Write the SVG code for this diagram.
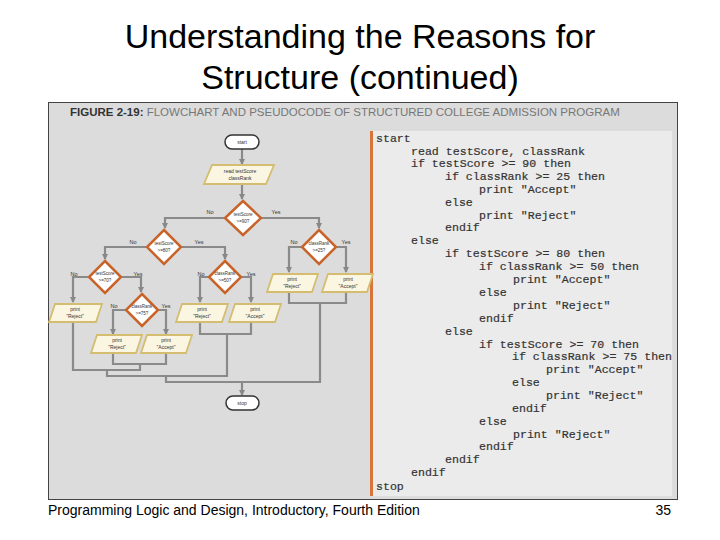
<svg xmlns="http://www.w3.org/2000/svg" width="720" height="540" viewBox="0 0 720 540">
<defs>
<marker id="ar" markerWidth="6" markerHeight="6" refX="5" refY="3" orient="auto" markerUnits="userSpaceOnUse" viewBox="0 0 6 6"><path d="M0,0 L6,3 L0,6 z" fill="#888"/></marker>
<style>
.t{font-family:"Liberation Sans",Arial,sans-serif;fill:#000}
.n{font-family:"Liberation Sans",Arial,sans-serif;font-size:5px;fill:#333;text-anchor:middle}
.dn{font-family:"Liberation Sans",Arial,sans-serif;font-size:4.5px;fill:#333;text-anchor:middle}
.lb{font-family:"Liberation Sans",Arial,sans-serif;font-size:5.5px;fill:#333;text-anchor:middle}
.d{fill:#fff;stroke:#c8642a;stroke-width:2.5}
.p{fill:#fbf6e2;stroke:#d4bd70;stroke-width:1.8}
.tm{fill:#fff;stroke:#333;stroke-width:1.5}
.c path{fill:none;stroke:#8a8a8a;stroke-width:2.2}
.code{font-family:"Liberation Mono","Courier New",monospace;font-size:11.6px;fill:#333;stroke:#333;stroke-width:0.2}
</style>
</defs>
<rect width="720" height="540" fill="#fff"/>
<text class="t" x="360" y="48" font-size="34" text-anchor="middle">Understanding the Reasons for</text>
<text class="t" x="360" y="89" font-size="34" text-anchor="middle">Structure (continued)</text>
<rect x="48.5" y="102.5" width="629" height="397" fill="#dcdcdc" stroke="#444" stroke-width="1"/>
<text x="70" y="116" font-family="Liberation Sans,Arial,sans-serif" font-size="11.5"><tspan font-weight="bold" fill="#333">FIGURE 2-19:</tspan><tspan fill="#777"> FLOWCHART AND PSEUDOCODE OF STRUCTURED COLLEGE ADMISSION PROGRAM</tspan></text>
<rect x="370" y="131" width="302" height="365" fill="#ebebeb"/>
<rect x="370" y="131" width="3" height="365" fill="#d9753a"/>
<g class="code">
<text x="376" y="142">start</text>
<text x="411" y="155">read testScore, classRank</text>
<text x="411" y="167">if testScore &gt;= 90 then</text>
<text x="445" y="180">if classRank &gt;= 25 then</text>
<text x="479" y="193">print "Accept"</text>
<text x="445" y="206">else</text>
<text x="479" y="219">print "Reject"</text>
<text x="445" y="231">endif</text>
<text x="411" y="244">else</text>
<text x="445" y="257">if testScore &gt;= 80 then</text>
<text x="479" y="270">if classRank &gt;= 50 then</text>
<text x="513" y="283">print "Accept"</text>
<text x="479" y="296">else</text>
<text x="513" y="309">print "Reject"</text>
<text x="479" y="322">endif</text>
<text x="445" y="335">else</text>
<text x="479" y="348">if testScore &gt;= 70 then</text>
<text x="512" y="360">if classRank &gt;= 75 then</text>
<text x="546" y="373">print "Accept"</text>
<text x="512" y="386">else</text>
<text x="546" y="399">print "Reject"</text>
<text x="512" y="412">endif</text>
<text x="479" y="425">else</text>
<text x="513" y="438">print "Reject"</text>
<text x="479" y="450">endif</text>
<text x="445" y="463">endif</text>
<text x="411" y="476">endif</text>
<text x="376" y="490">stop</text>
</g>
<g class="c">
<path d="M242,149 V164" marker-end="url(#ar)"/>
<path d="M242,184 V199" marker-end="url(#ar)"/>
<path d="M225,218 H165 V228" marker-end="url(#ar)"/>
<path d="M261,218 H319 V228" marker-end="url(#ar)"/>
<path d="M147,247 H105 V259" marker-end="url(#ar)"/>
<path d="M181,247 H225 V259" marker-end="url(#ar)"/>
<path d="M302,247 H289 V272" marker-end="url(#ar)"/>
<path d="M336,247 H346 V272" marker-end="url(#ar)"/>
<path d="M89,277 H73 V302" marker-end="url(#ar)"/>
<path d="M121,277 H141 V292" marker-end="url(#ar)"/>
<path d="M209,277 H200 V302" marker-end="url(#ar)"/>
<path d="M241,277 H251 V302" marker-end="url(#ar)"/>
<path d="M126,310 H113 V334" marker-end="url(#ar)"/>
<path d="M158,310 H166 V334" marker-end="url(#ar)"/>
<path d="M289,292 V303 H346 V292"/>
<path d="M200,322 V334 H251 V322"/>
<path d="M113,353 V364 H166 V353"/>
<path d="M73,322 V370 H140 V364"/>
<path d="M107,370 V376 H227 V334"/>
<path d="M166,376 V382 H320 V303"/>
<path d="M242,382 V395" marker-end="url(#ar)"/>
</g>
<g id="start"><rect class="tm" x="225" y="135" width="34" height="14" rx="7"/><text class="n" x="242" y="144">start</text></g>
<g id="read"><path class="p" d="M212,165 H274 L266,184 H204 z"/><text class="n" x="240" y="173">read testScore</text><text class="n" x="240" y="180">classRank</text></g>
<g id="d1"><path class="d" d="M243,201 L261,218 L243,235 L225,218 z"/><text class="dn" x="243" y="216">testScore</text><text class="dn" x="243" y="223">&gt;=90?</text></g>
<text class="lb" x="210" y="214">No</text><text class="lb" x="276" y="214">Yes</text>
<g id="d2"><path class="d" d="M164,230 L181,247 L164,264 L147,247 z"/><text class="dn" x="164" y="245">testScore</text><text class="dn" x="164" y="252">&gt;=80?</text></g>
<text class="lb" x="133" y="244">No</text><text class="lb" x="199" y="244">Yes</text>
<g id="d3"><path class="d" d="M319,230 L336,247 L319,264 L302,247 z"/><text class="dn" x="319" y="245">classRank</text><text class="dn" x="319" y="252">&gt;=25?</text></g>
<text class="lb" x="294" y="244">No</text><text class="lb" x="346" y="244">Yes</text>
<g id="d4"><path class="d" d="M105,261 L121,277 L105,293 L89,277 z"/><text class="dn" x="105" y="275">testScore</text><text class="dn" x="105" y="282">&gt;=70?</text></g>
<text class="lb" x="74" y="276">No</text><text class="lb" x="138" y="276">Yes</text>
<g id="d5"><path class="d" d="M225,261 L241,277 L225,293 L209,277 z"/><text class="dn" x="225" y="275">classRank</text><text class="dn" x="225" y="282">&gt;=50?</text></g>
<text class="lb" x="201" y="276">No</text><text class="lb" x="251" y="276">Yes</text>
<g id="d6"><path class="d" d="M142,294 L158,310 L142,326 L126,310 z"/><text class="dn" x="142" y="308">classRank</text><text class="dn" x="142" y="315">&gt;=75?</text></g>
<text class="lb" x="114" y="308">No</text><text class="lb" x="166" y="308">Yes</text>
<g id="p1"><path class="p" d="M273,274 H318 L312,292 H267 z"/><text class="n" x="292" y="281">print</text><text class="n" x="292" y="288">"Reject"</text></g>
<g id="p2"><path class="p" d="M328,274 H373 L367,292 H322 z"/><text class="n" x="348" y="281">print</text><text class="n" x="348" y="288">"Accept"</text></g>
<g id="p3"><path class="p" d="M55,304 H102 L96,322 H49 z"/><text class="n" x="75" y="311">print</text><text class="n" x="75" y="318">"Reject"</text></g>
<g id="p4"><path class="p" d="M182,304 H228 L222,322 H176 z"/><text class="n" x="202" y="311">print</text><text class="n" x="202" y="318">"Reject"</text></g>
<g id="p5"><path class="p" d="M235,304 H281 L275,322 H229 z"/><text class="n" x="255" y="311">print</text><text class="n" x="255" y="318">"Accept"</text></g>
<g id="p6"><path class="p" d="M97,335 H142 L136,353 H91 z"/><text class="n" x="117" y="342">print</text><text class="n" x="117" y="349">"Reject"</text></g>
<g id="p7"><path class="p" d="M147,335 H192 L186,353 H141 z"/><text class="n" x="166" y="342">print</text><text class="n" x="166" y="349">"Accept"</text></g>
<g id="stop"><rect class="tm" x="226" y="396" width="33" height="14" rx="7"/><text class="n" x="242" y="405">stop</text></g>
<text class="t" x="48" y="515" font-size="14">Programming Logic and Design, Introductory, Fourth Edition</text>
<text class="t" x="671" y="515" font-size="14" text-anchor="end">35</text>
</svg>
